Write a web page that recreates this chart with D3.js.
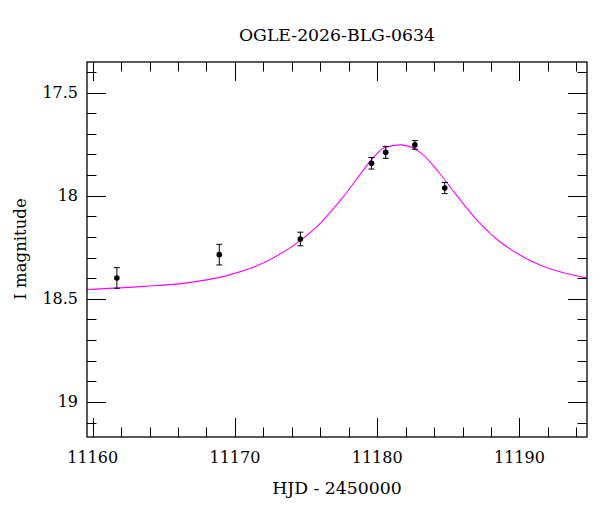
<!DOCTYPE html>
<html>
<head>
<meta charset="utf-8">
<script src="https://cdn.jsdelivr.net/npm/d3@7"></script>
<style>
    body { margin: 0; background: #fff; }
    text { font-family: "DejaVu Serif", "Liberation Serif", serif; fill: #000; }
</style>
</head>
<body>
<svg id="chart" width="600" height="512"></svg>
<script>
/*
    Light curve: photometry points with error bars plus the model fit
 */

// observations
const obsHjd = [11161.7, 11168.9, 11174.6, 11179.6, 11180.6, 11182.65, 11184.75];
const obsMag = [18.399, 18.286, 18.210, 17.843, 17.790, 17.754, 17.963];
const obsErr = [0.050, 0.050, 0.033, 0.028, 0.029, 0.021, 0.027];

// model curve
const fitHjd = [11159.6, 11163.65, 11166.5, 11169.3, 11172.1, 11174.7, 11176.1, 11177.5,
    11179.1, 11179.8, 11180.5, 11181.6, 11183.1, 11184.3, 11185.4, 11187.2, 11188.6, 11190.0,
    11191.4, 11192.8, 11194.75];
const fitMag = [18.455, 18.440, 18.424, 18.390, 18.323, 18.212, 18.127, 18.016,
    17.870, 17.810, 17.768, 17.754, 17.794, 17.884, 17.982, 18.132, 18.222, 18.286,
    18.335, 18.368, 18.400];

const xMajor = [11160, 11170, 11180, 11190];
const yMajor = [17.5, 18, 18.5, 19];
const xLabels = ["11160", "11170", "11180", "11190"];
const yLabels = ["17.5", "18", "18.5", "19"];

const chartTitle = "OGLE-2026-BLG-0634";
const xTitle = "HJD - 2450000";
const yTitle = "I magnitude";

const plotL = 87, plotR = 587, plotT = 62, plotB = 437;
const majorLen = 19, minorLen = 9.5;

const svg = d3.select("#chart");

const x = d3.scaleLinear().domain([11159.6, 11194.75]).range([plotL, plotR]);
const y = d3.scaleLinear().domain([17.352, 19.17]).range([plotT, plotB]);

// minor ticks every 2 days / 0.1 mag
const xMinor = d3.range(11160, 11195, 2).filter(v => v % 10 !== 0);
const yMinor = d3.range(17.4, 19.15, 0.1).map(v => +v.toFixed(1))
    .filter(v => !yMajor.includes(v));

const g = svg.append("g");

// model curve, clipped to the frame
svg.append("clipPath").attr("id", "frame-clip")
    .append("rect").attr("x", plotL).attr("y", plotT)
    .attr("width", plotR - plotL).attr("height", plotB - plotT);

const line = d3.line()
    .x((d, i) => x(fitHjd[i]))
    .y(d => y(d))
    .curve(d3.curveMonotoneX);

g.append("path")
    .datum(fitMag)
    .attr("clip-path", "url(#frame-clip)")
    .attr("d", line)
    .attr("fill", "none")
    .attr("stroke", "#ff00ff")
    .attr("stroke-width", 1.1);

// frame
g.append("rect")
    .attr("x", plotL).attr("y", plotT)
    .attr("width", plotR - plotL).attr("height", plotB - plotT)
    .attr("fill", "none").attr("stroke", "#000").attr("stroke-width", 1.3);

function tickLines(values, len, vertical) {
    values.forEach(v => {
        if (vertical) {
            let px = Math.round(x(v)) + 0.5;
            g.append("line").attr("class", "tick").attr("x1", px).attr("x2", px).attr("y1", plotB).attr("y2", plotB - len);
            g.append("line").attr("class", "tick").attr("x1", px).attr("x2", px).attr("y1", plotT).attr("y2", plotT + len);
        } else {
            let py = Math.round(y(v)) + 0.5;
            g.append("line").attr("class", "tick").attr("y1", py).attr("y2", py).attr("x1", plotL).attr("x2", plotL + len);
            g.append("line").attr("class", "tick").attr("y1", py).attr("y2", py).attr("x1", plotR).attr("x2", plotR - len);
        }
    });
}
tickLines(xMajor, majorLen, true);
tickLines(xMinor, minorLen, true);
tickLines(yMajor, majorLen, false);
tickLines(yMinor, minorLen, false);
g.selectAll(".tick").attr("stroke", "#000").attr("stroke-width", 1);

// tick labels
g.selectAll(".xlabel").data(xMajor).enter().append("text")
    .attr("class", "xlabel")
    .attr("x", d => x(d)).attr("y", 463)
    .attr("text-anchor", "middle").attr("font-size", 16)
    .text((d, i) => xLabels[i]);

g.selectAll(".ylabel").data(yMajor).enter().append("text")
    .attr("class", "ylabel")
    .attr("x", 78).attr("y", d => y(d) + 5.5)
    .attr("text-anchor", "end").attr("font-size", 16)
    .text((d, i) => yLabels[i]);

// error bars and points
const obs = obsHjd.map((h, i) => ({hjd: h, mag: obsMag[i], err: obsErr[i]}));
const pts = g.selectAll(".obs").data(obs).enter().append("g").attr("class", "obs");
pts.append("line")
    .attr("x1", d => x(d.hjd)).attr("x2", d => x(d.hjd))
    .attr("y1", d => y(d.mag - d.err)).attr("y2", d => y(d.mag + d.err));
pts.append("line")
    .attr("x1", d => x(d.hjd) - 3).attr("x2", d => x(d.hjd) + 3)
    .attr("y1", d => y(d.mag - d.err)).attr("y2", d => y(d.mag - d.err));
pts.append("line")
    .attr("x1", d => x(d.hjd) - 3).attr("x2", d => x(d.hjd) + 3)
    .attr("y1", d => y(d.mag + d.err)).attr("y2", d => y(d.mag + d.err));
pts.selectAll("line").attr("stroke", "#000").attr("stroke-width", 1);
pts.append("circle")
    .attr("cx", d => x(d.hjd)).attr("cy", d => y(d.mag))
    .attr("r", 2.8).attr("fill", "#000");

// titles
svg.append("text").attr("x", 337).attr("y", 41)
    .attr("text-anchor", "middle").attr("font-size", 17.3)
    .text(chartTitle);
svg.append("text").attr("x", 337).attr("y", 494)
    .attr("text-anchor", "middle").attr("font-size", 17.3)
    .text(xTitle);
svg.append("text")
    .attr("transform", "translate(26,249) rotate(-90)")
    .attr("text-anchor", "middle").attr("font-size", 16.5)
    .text(yTitle);
</script>
</body>
</html>
